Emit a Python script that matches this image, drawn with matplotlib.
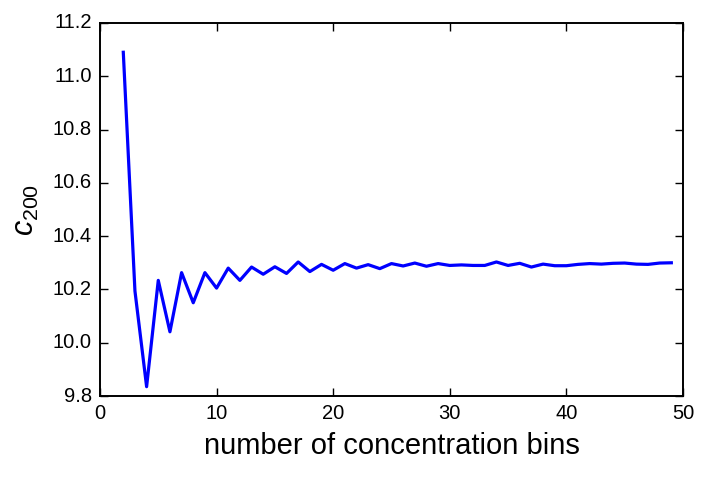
import matplotlib
matplotlib.use("Agg")
import matplotlib.pyplot as plt

# number of bins vs. fitted concentration
n_bins = list(range(2, 50))
c200 = [11.09, 10.194, 9.835, 10.234, 10.041, 10.263, 10.150, 10.263, 10.205, 10.280,
        10.234, 10.284, 10.257, 10.285, 10.260, 10.303, 10.267, 10.294, 10.272, 10.297,
        10.280, 10.293, 10.278, 10.297, 10.288, 10.299, 10.287, 10.297, 10.290, 10.292,
        10.290, 10.290, 10.303, 10.290, 10.298, 10.284, 10.295, 10.289, 10.289, 10.294,
        10.297, 10.295, 10.298, 10.299, 10.295, 10.294, 10.299, 10.300]

plt.style.use("classic")
plt.rcParams["font.family"] = ["Liberation Sans", "DejaVu Sans"]
plt.rcParams["mathtext.fontset"] = "custom"
plt.rcParams["mathtext.rm"] = "Liberation Sans"
plt.rcParams["mathtext.it"] = "Liberation Sans:italic"

fig = plt.figure(figsize=(7.11, 4.78), dpi=100, facecolor="white")
ax = fig.add_axes([0.1406, 0.1715, 0.8200, 0.7805])

ax.plot(n_bins, c200, color="blue", linewidth=2.3)

ax.set_xlim(0, 50)
ax.set_ylim(9.8, 11.2)
ax.set_xticks([0, 10, 20, 30, 40, 50])
ax.set_yticks([9.8, 10.0, 10.2, 10.4, 10.6, 10.8, 11.0, 11.2])
ax.yaxis.set_major_formatter(matplotlib.ticker.FormatStrFormatter("%.1f"))
ax.tick_params(labelsize=14.5, direction="in", length=6, width=1, pad=6)
for spine in ax.spines.values():
    spine.set_linewidth(1.4)

ax.set_xlabel("number of concentration bins", fontsize=21, labelpad=6)
ax.set_ylabel("$c_{200}$", fontsize=22, labelpad=8)

fig.savefig("out.png", dpi=100, facecolor="white")
